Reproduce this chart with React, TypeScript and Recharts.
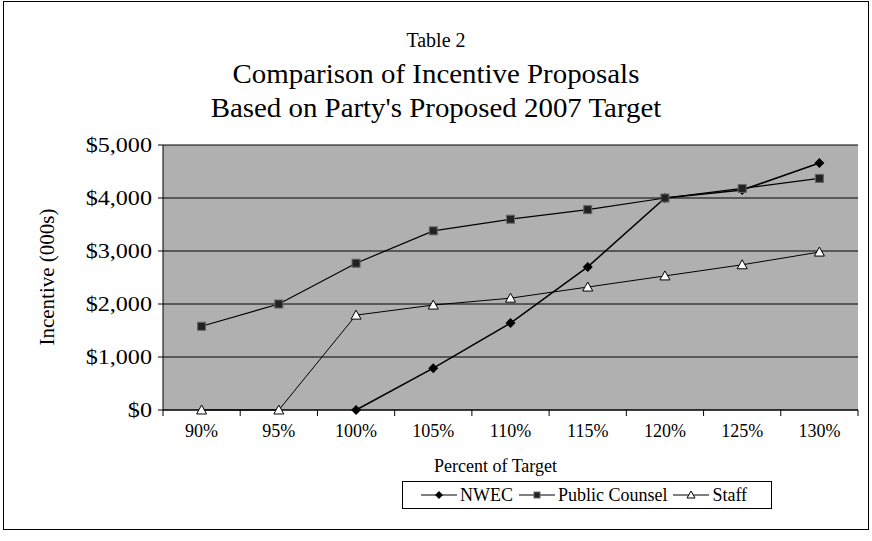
import React from 'react';
import { LineChart, Line, XAxis, YAxis, CartesianGrid } from 'recharts';

const CATEGORIES = ['90%', '95%', '100%', '105%', '110%', '115%', '120%', '125%', '130%'];
const NWEC = [null, null, 0, 790, 1640, 2700, 4000, 4150, 4660];
const PUBLIC_COUNSEL = [1580, 2000, 2770, 3380, 3600, 3780, 4000, 4180, 4370];
const STAFF = [0, 0, 1790, 1980, 2110, 2320, 2530, 2740, 2980];
const Y_TICKS = [0, 1000, 2000, 3000, 4000, 5000];

const FONT = '"Liberation Serif", "Times New Roman", serif';
const X_PAD = 38.6;

const data = CATEGORIES.map((c, i) => ({
  name: c,
  nwec: NWEC[i],
  pc: PUBLIC_COUNSEL[i],
  staff: STAFF[i],
}));

// eslint-disable-next-line @typescript-eslint/no-explicit-any
function Diamond(props: any) {
  const { cx, cy, index } = props;
  if (cx == null || cy == null) return <g key={index} />;
  const r = 5;
  return (
    <path key={index} d={`M${cx},${cy - r} L${cx + r},${cy} L${cx},${cy + r} L${cx - r},${cy} Z`} fill="#000" />
  );
}

// eslint-disable-next-line @typescript-eslint/no-explicit-any
function Square(props: any) {
  const { cx, cy, index } = props;
  if (cx == null || cy == null) return <g key={index} />;
  return <rect key={index} x={cx - 4} y={cy - 4} width={8} height={8} fill="#222" stroke="#666" strokeWidth={1} />;
}

// eslint-disable-next-line @typescript-eslint/no-explicit-any
function Triangle(props: any) {
  const { cx, cy, index } = props;
  if (cx == null || cy == null) return <g key={index} />;
  return (
    <path key={index} d={`M${cx},${cy - 5} L${cx + 5},${cy + 4} L${cx - 5},${cy + 4} Z`} fill="#fff" stroke="#000" strokeWidth={1} />
  );
}

// y tick labels in the scan are wider than plain Times
// eslint-disable-next-line @typescript-eslint/no-explicit-any
function YTick(props: any) {
  const { x, y, payload } = props;
  return (
    <g transform={`translate(${x - 4},${y})`}>
      <text transform="scale(1.15,1)" textAnchor="end" dominantBaseline="central" fontSize={21} fontFamily={FONT} fill="#000">
        {`$${Number(payload.value).toLocaleString('en-US')}`}
      </text>
    </g>
  );
}

// category label plus Excel-style tick marks between categories
// eslint-disable-next-line @typescript-eslint/no-explicit-any
function XTick(props: any) {
  const { x, y, payload, index, width } = props;
  const half = (width - 2 * X_PAD) / (CATEGORIES.length - 1) / 2;
  const isLast = index === CATEGORIES.length - 1;
  return (
    <g>
      <line x1={x - half} y1={y} x2={x - half} y2={y + 6} stroke="#000" />
      {isLast && <line x1={x + half} y1={y} x2={x + half} y2={y + 6} stroke="#000" />}
      <text x={x} y={y + 27} textAnchor="middle" fontSize={18} fontFamily={FONT} fill="#000">
        {payload.value}
      </text>
    </g>
  );
}

function LegendItem({ label, marker }: { label: string; marker: 'diamond' | 'square' | 'triangle' }) {
  return (
    <span style={{ display: 'inline-flex', alignItems: 'center', marginRight: 6 }}>
      <svg width={36} height={14}>
        <line x1={0} y1={7} x2={36} y2={7} stroke="#000" strokeWidth={1.2} />
        {marker === 'diamond' && <path d="M18,3 L22,7 L18,11 L14,7 Z" fill="#000" />}
        {marker === 'square' && <rect x={15} y={4} width={6} height={6} fill="#222" stroke="#666" />}
        {marker === 'triangle' && <path d="M18,3 L22,10 L14,10 Z" fill="#fff" stroke="#000" />}
      </svg>
      <span style={{ marginLeft: 3 }}>{label}</span>
    </span>
  );
}

export default function App() {
  return (
    <div style={{ position: 'absolute', left: 0, top: 0, width: 872, height: 541, background: '#fff', fontFamily: FONT }}>
      {/* outer frame */}
      <div style={{ position: 'absolute', left: 3, top: 1, width: 864, height: 527, border: '1px solid #000' }} />

      {/* titles */}
      <div style={{ position: 'absolute', left: 0, width: 872, top: 28, textAlign: 'center', fontSize: 20, lineHeight: '24px' }}>
        Table 2
      </div>
      <div
        style={{
          position: 'absolute', left: 0, width: 872, top: 57, textAlign: 'center', fontSize: 27, lineHeight: '34px',
          transform: 'scaleX(1.07)',
        }}
      >
        Comparison of Incentive Proposals
      </div>
      <div
        style={{
          position: 'absolute', left: 0, width: 872, top: 91, textAlign: 'center', fontSize: 27, lineHeight: '34px',
          transform: 'scaleX(1.07)',
        }}
      >
        Based on Party's Proposed 2007 Target
      </div>

      <div style={{ position: 'absolute', left: 0, top: 0 }}>
        <LineChart width={872} height={541} data={data} margin={{ top: 145, right: 14, left: 0, bottom: 101 }}>
          <CartesianGrid vertical={false} stroke="#000" strokeWidth={1} fill="#b0b0b0" fillOpacity={1} />
          <XAxis
            dataKey="name"
            axisLine={{ stroke: '#000' }}
            tickLine={false}
            tickSize={0}
            tickMargin={0}
            height={30}
            padding={{ left: X_PAD, right: X_PAD }}
            tick={<XTick />}
          />
          <YAxis
            domain={[0, 5000]}
            ticks={Y_TICKS}
            width={163}
            axisLine={{ stroke: '#000' }}
            tickLine={{ stroke: '#000' }}
            tickSize={5}
            tick={<YTick />}
          />
          <YAxis yAxisId="frame" orientation="right" width={0} tick={false} axisLine={{ stroke: '#000' }} />
          <Line dataKey="nwec" stroke="#000" strokeWidth={1.5} dot={<Diamond />} isAnimationActive={false} connectNulls={false} />
          <Line dataKey="pc" stroke="#000" strokeWidth={1.2} dot={<Square />} isAnimationActive={false} />
          <Line dataKey="staff" stroke="#000" strokeWidth={1} dot={<Triangle />} isAnimationActive={false} />
        </LineChart>
      </div>

      {/* y axis label */}
      <div
        style={{
          position: 'absolute',
          left: 47,
          top: 277,
          fontSize: 21,
          whiteSpace: 'nowrap',
          transform: 'translate(-50%, -50%) rotate(-90deg)',
        }}
      >
        Incentive (000s)
      </div>

      {/* x axis label */}
      <div style={{ position: 'absolute', left: 163, width: 665, top: 456, textAlign: 'center', fontSize: 18 }}>
        Percent of Target
      </div>

      {/* legend */}
      <div
        style={{
          position: 'absolute',
          left: 402,
          top: 481,
          width: 368,
          height: 26,
          border: '1px solid #000',
          background: '#fff',
          display: 'flex',
          alignItems: 'center',
          justifyContent: 'center',
          fontSize: 18,
        }}
      >
        <LegendItem label="NWEC" marker="diamond" />
        <LegendItem label="Public Counsel" marker="square" />
        <LegendItem label="Staff" marker="triangle" />
      </div>
    </div>
  );
}
